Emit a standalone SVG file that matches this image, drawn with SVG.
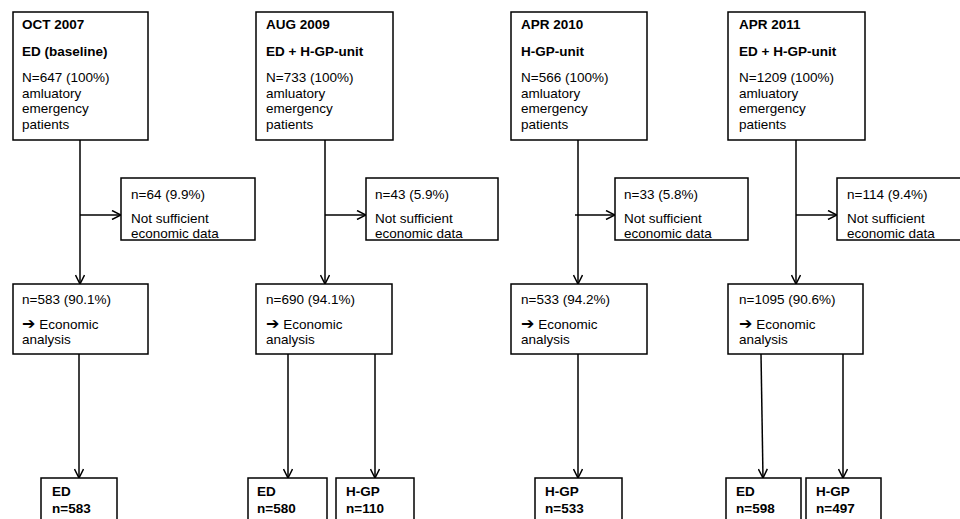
<svg xmlns="http://www.w3.org/2000/svg" width="960" height="519" viewBox="0 0 960 519">
<style>
  .box{fill:#fff;stroke:#000;stroke-width:1.5}
  .t{font-family:"Liberation Sans",Arial,"DejaVu Sans",sans-serif;font-size:13.5px;fill:#000}
  .b{font-weight:bold}
  .ar{font-family:"DejaVu Sans",sans-serif;font-weight:bold;font-size:16px}
  .c{stroke:#000;stroke-width:1.5;fill:none}
</style>
<defs>
  <marker id="ah" viewBox="0 0 10 10" refX="10" refY="5" markerWidth="10" markerHeight="10" markerUnits="userSpaceOnUse" orient="auto">
    <path d="M1,0.5 L10,5 L1,9.5" fill="none" stroke="#000" stroke-width="1.5"/>
  </marker>
</defs>
<rect width="960" height="519" fill="#fff"/>

<g id="connectors">
  <line class="c" x1="80" y1="140" x2="80" y2="284" marker-end="url(#ah)"/>
  <line class="c" x1="80" y1="215" x2="121" y2="215" marker-end="url(#ah)"/>
  <line class="c" x1="79" y1="354" x2="79" y2="478" marker-end="url(#ah)"/>

  <line class="c" x1="325" y1="140" x2="325" y2="284" marker-end="url(#ah)"/>
  <line class="c" x1="325" y1="215" x2="366" y2="215" marker-end="url(#ah)"/>
  <line class="c" x1="288" y1="354" x2="288" y2="478" marker-end="url(#ah)"/>
  <line class="c" x1="375" y1="354" x2="375" y2="478" marker-end="url(#ah)"/>

  <line class="c" x1="578" y1="140" x2="578" y2="284" marker-end="url(#ah)"/>
  <line class="c" x1="575" y1="215" x2="615" y2="215" marker-end="url(#ah)"/>
  <line class="c" x1="578" y1="354" x2="578" y2="478" marker-end="url(#ah)"/>

  <line class="c" x1="796" y1="140" x2="796" y2="284" marker-end="url(#ah)"/>
  <line class="c" x1="796" y1="215" x2="837" y2="215" marker-end="url(#ah)"/>
  <line class="c" x1="761" y1="354" x2="763" y2="478" marker-end="url(#ah)"/>
  <line class="c" x1="843" y1="354" x2="843" y2="478" marker-end="url(#ah)"/>
</g>

<g id="oct2007">
  <rect class="box" x="13" y="12" width="135" height="128"/>
  <text class="t b" x="22" y="29">OCT 2007</text>
  <text class="t b" x="22" y="56">ED (baseline)</text>
  <text class="t" x="22" y="82">N=647 (100%)</text>
  <text class="t" x="22" y="97.5">amluatory</text>
  <text class="t" x="22" y="113">emergency</text>
  <text class="t" x="22" y="128.5">patients</text>
</g>
<g id="excl2007">
  <rect class="box" x="121" y="178" width="134" height="62"/>
  <text class="t" x="131" y="199">n=64 (9.9%)</text>
  <text class="t" x="131" y="222.5">Not sufficient</text>
  <text class="t" x="131" y="237.5">economic data</text>
</g>
<g id="ana2007">
  <rect class="box" x="13" y="284" width="135" height="70"/>
  <text class="t" x="22" y="304">n=583 (90.1%)</text>
  <text class="t" x="22" y="329"><tspan class="ar">➔</tspan> Economic</text>
  <text class="t" x="22" y="344">analysis</text>
</g>
<g id="ed2007">
  <rect class="box" x="41" y="478" width="76" height="50"/>
  <text class="t b" x="52" y="496">ED</text>
  <text class="t b" x="52" y="513">n=583</text>
</g>

<g id="aug2009">
  <rect class="box" x="256" y="12" width="137" height="128"/>
  <text class="t b" x="266" y="29">AUG 2009</text>
  <text class="t b" x="266" y="56">ED + H-GP-unit</text>
  <text class="t" x="266" y="82">N=733 (100%)</text>
  <text class="t" x="266" y="97.5">amluatory</text>
  <text class="t" x="266" y="113">emergency</text>
  <text class="t" x="266" y="128.5">patients</text>
</g>
<g id="excl2009">
  <rect class="box" x="366" y="178" width="132" height="62"/>
  <text class="t" x="375" y="199">n=43 (5.9%)</text>
  <text class="t" x="375" y="222.5">Not sufficient</text>
  <text class="t" x="375" y="237.5">economic data</text>
</g>
<g id="ana2009">
  <rect class="box" x="256" y="284" width="136" height="70"/>
  <text class="t" x="266" y="304">n=690 (94.1%)</text>
  <text class="t" x="266" y="329"><tspan class="ar">➔</tspan> Economic</text>
  <text class="t" x="266" y="344">analysis</text>
</g>
<g id="ed2009">
  <rect class="box" x="248" y="478" width="79" height="50"/>
  <text class="t b" x="257" y="496">ED</text>
  <text class="t b" x="257" y="513">n=580</text>
</g>
<g id="hgp2009">
  <rect class="box" x="336" y="478" width="78" height="50"/>
  <text class="t b" x="346" y="496">H-GP</text>
  <text class="t b" x="346" y="513">n=110</text>
</g>

<g id="apr2010">
  <rect class="box" x="511" y="12" width="136" height="128"/>
  <text class="t b" x="521" y="29">APR 2010</text>
  <text class="t b" x="521" y="56">H-GP-unit</text>
  <text class="t" x="521" y="82">N=566 (100%)</text>
  <text class="t" x="521" y="97.5">amluatory</text>
  <text class="t" x="521" y="113">emergency</text>
  <text class="t" x="521" y="128.5">patients</text>
</g>
<g id="excl2010">
  <rect class="box" x="615" y="178" width="133" height="62"/>
  <text class="t" x="624" y="199">n=33 (5.8%)</text>
  <text class="t" x="624" y="222.5">Not sufficient</text>
  <text class="t" x="624" y="237.5">economic data</text>
</g>
<g id="ana2010">
  <rect class="box" x="511" y="284" width="136" height="70"/>
  <text class="t" x="521" y="304">n=533 (94.2%)</text>
  <text class="t" x="521" y="329"><tspan class="ar">➔</tspan> Economic</text>
  <text class="t" x="521" y="344">analysis</text>
</g>
<g id="hgp2010">
  <rect class="box" x="535" y="478" width="87" height="50"/>
  <text class="t b" x="545" y="496">H-GP</text>
  <text class="t b" x="545" y="513">n=533</text>
</g>

<g id="apr2011">
  <rect class="box" x="728" y="12" width="137" height="128"/>
  <text class="t b" x="739" y="29">APR 2011</text>
  <text class="t b" x="739" y="56">ED + H-GP-unit</text>
  <text class="t" x="739" y="82">N=1209 (100%)</text>
  <text class="t" x="739" y="97.5">amluatory</text>
  <text class="t" x="739" y="113">emergency</text>
  <text class="t" x="739" y="128.5">patients</text>
</g>
<g id="excl2011">
  <rect class="box" x="837" y="178" width="133" height="62"/>
  <text class="t" x="847" y="199">n=114 (9.4%)</text>
  <text class="t" x="847" y="222.5">Not sufficient</text>
  <text class="t" x="847" y="237.5">economic data</text>
</g>
<g id="ana2011">
  <rect class="box" x="728" y="284" width="135" height="70"/>
  <text class="t" x="739" y="304">n=1095 (90.6%)</text>
  <text class="t" x="739" y="329"><tspan class="ar">➔</tspan> Economic</text>
  <text class="t" x="739" y="344">analysis</text>
</g>
<g id="ed2011">
  <rect class="box" x="726" y="478" width="75" height="50"/>
  <text class="t b" x="736" y="496">ED</text>
  <text class="t b" x="736" y="513">n=598</text>
</g>
<g id="hgp2011">
  <rect class="box" x="806" y="478" width="75" height="50"/>
  <text class="t b" x="816" y="496">H-GP</text>
  <text class="t b" x="816" y="513">n=497</text>
</g>
</svg>
